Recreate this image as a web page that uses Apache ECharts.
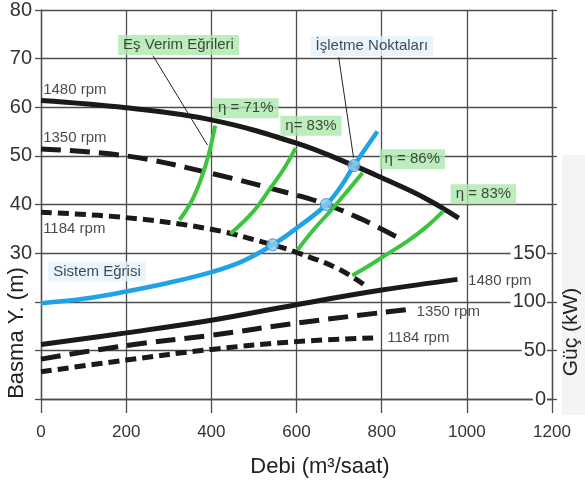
<!DOCTYPE html>
<html>
<head>
<meta charset="utf-8">
<script src="https://cdn.jsdelivr.net/npm/echarts@6/dist/echarts.min.js"></script>
<style>
  html, body { margin: 0; padding: 0; background: #fff; }
  #chart { width: 585px; height: 483px; }
</style>
</head>
<body>
<div id="chart"></div>
<script>
// pompa karakteristikleri [debi m3/saat, basma m]
const head1480 = [[0, 61.4], [200, 59.9], [400, 57.4], [600, 52.6], [735, 48.0], [800, 45.5], [900, 41.4], [981, 37.2]];
const head1350 = [[0, 51.4], [200, 50.0], [400, 46.4], [600, 41.9], [670, 40.0], [750, 37.1], [838, 33.2]];
const head1184 = [[0, 38.4], [200, 37.3], [400, 34.9], [544, 31.7], [602, 30.1], [700, 26.7], [762, 23.3]];

// sistem eğrisi
const systemCurve = [[0, 19.7], [100, 20.6], [200, 22.1], [300, 23.9], [400, 26.1], [470, 28.2], [544, 31.7], [600, 35.1], [670, 40.0], [705, 43.8], [735, 48.0], [790, 55.0]];

// eş verim eğrileri
const eff71 = [[325, 36.8], [352, 40.4], [374, 44.8], [393, 50.0], [409, 56.2]];
const eff83a = [[445, 34.0], [500, 38.7], [539, 43.4], [570, 47.3], [598, 51.6]];
const eff86 = [[602, 30.6], [641, 34.9], [680, 38.7], [719, 42.7], [755, 46.5]];
const eff83b = [[731, 25.4], [770, 27.4], [813, 29.8], [860, 32.4], [905, 35.4], [945, 38.7]];

// işletme noktaları
const opPoints = [[544, 31.7], [670, 40.0], [735, 48.0]];

// güç eğrileri [debi, kW]
const power1480 = [[0, 56], [200, 68], [400, 81], [600, 97], [800, 112], [978, 123]];
const power1350 = [[0, 41], [200, 55], [400, 65.5], [600, 78], [860, 92]];
const power1184 = [[0, 28], [200, 40], [400, 51], [600, 59], [790, 63]];

const font = 'Liberation Sans, Arial, sans-serif';
const gridColor = '#4d4d4d';

// yazılar (veri koordinatında, sol-orta)
const notes = [
  { text: '1480 rpm', at: [5, 63.6] },
  { text: '1350 rpm', at: [5, 53.8] },
  { text: '1184 rpm', at: [5, 35.0] },
  { text: 'Sistem Eğrisi', at: [17, 26.2], bg: '#e3f1fc' },
  { text: 'Eş Verim Eğrileri', at: [181, 72.8], bg: '#ade8ad' },
  { text: 'İşletme Noktaları', at: [633, 72.6], bg: '#e3f1fc' },
  { text: 'η = 71%', at: [404, 59.8], bg: '#ade8ad' },
  { text: 'η= 83%', at: [562, 56.2], bg: '#ade8ad' },
  { text: 'η = 86%', at: [795, 49.3], bg: '#ade8ad' },
  { text: 'η = 83%', at: [962, 42.1], bg: '#ade8ad' },
  { text: '1480 rpm', at: [1003, 24.3] },
  { text: '1350 rpm', at: [882, 17.9] },
  { text: '1184 rpm', at: [813, 12.6] }
];

const arrows = [
  [[263, 70.6], [391, 52.2]],
  [[699, 70.3], [734, 49.6]]
];

const chart = echarts.init(document.getElementById('chart'));

function curve(data, color, width, type, yIndex) {
  return {
    type: 'line',
    data: data,
    yAxisIndex: yIndex || 0,
    smooth: 0.4,
    symbol: 'none',
    silent: true,
    lineStyle: { color: color, width: width, type: type || 'solid', cap: 'butt' }
  };
}

chart.setOption({
  animation: false,
  textStyle: { fontFamily: font },
  grid: { left: 41, right: 33, top: 8, bottom: 84 },
  xAxis: {
    type: 'value',
    min: 0,
    max: 1200,
    interval: 200,
    axisLine: { lineStyle: { color: gridColor, width: 1.3 } },
    axisTick: { length: 14, lineStyle: { color: gridColor, width: 1.3 } },
    axisLabel: { fontSize: 17, color: '#333', margin: 25, formatter: v => String(v) },
    splitLine: { lineStyle: { color: gridColor, width: 1.3 } }
  },
  yAxis: [
    {
      type: 'value',
      min: 0,
      max: 80,
      interval: 10,
      axisLine: { show: true, lineStyle: { color: gridColor, width: 1.3 } },
      axisTick: { show: true, length: 6, lineStyle: { color: gridColor, width: 1.3 } },
      axisLabel: {
        fontSize: 20, color: '#333', margin: 9,
        formatter: v => (v >= 30 ? String(v) : '')
      },
      splitLine: { lineStyle: { color: gridColor, width: 1.3 } }
    },
    {
      type: 'value',
      position: 'right',
      min: 0,
      max: 400,
      interval: 50,
      axisLine: { show: true, lineStyle: { color: gridColor, width: 1.3 } },
      axisTick: { show: true, length: 5, lineStyle: { color: gridColor, width: 1.3 } },
      axisLabel: {
        inside: true, fontSize: 20, color: '#333', margin: 5,
        backgroundColor: '#fff', padding: [0, 1, 0, 2],
        formatter: v => (v <= 150 ? String(v) : '')
      },
      splitLine: { show: false }
    }
  ],
  graphic: [
    { type: 'rect', z: -10, shape: { x: 562, y: 155, width: 23, height: 260 }, style: { fill: '#f4f4f4' } },
    { type: 'text', x: 320, y: 467, style: { text: 'Debi (m³/saat)', fontSize: 22, fontFamily: font, fill: '#222', align: 'center', verticalAlign: 'middle' } },
    { type: 'text', x: 17, y: 333, rotation: Math.PI / 2, style: { text: 'Basma Y. (m)', fontSize: 22, fontFamily: font, fill: '#222', align: 'center', verticalAlign: 'middle' } },
    { type: 'text', x: 571, y: 332, rotation: Math.PI / 2, style: { text: 'Güç (kW)', fontSize: 21, fontFamily: font, fill: '#222', align: 'center', verticalAlign: 'middle' } }
  ],
  series: [
    curve(head1480, '#1a1a1a', 5),
    curve(head1350, '#1a1a1a', 5, [20, 9]),
    curve(head1184, '#1a1a1a', 5, [11, 6]),
    curve(power1480, '#1a1a1a', 5, 'solid', 1),
    curve(power1350, '#1a1a1a', 5, [20, 9], 1),
    curve(power1184, '#1a1a1a', 5, [11, 6], 1),
    curve(eff71, '#3cc43c', 4),
    curve(eff83a, '#3cc43c', 4),
    curve(eff86, '#3cc43c', 4),
    curve(eff83b, '#3cc43c', 4),
    curve(systemCurve, '#1fa3e6', 4.5),
    {
      type: 'scatter',
      data: opPoints,
      symbol: 'circle',
      symbolSize: 12,
      silent: true,
      z: 5,
      itemStyle: { color: '#8ecdf0', borderColor: '#2b7fc2', borderWidth: 1 },
      markLine: {
        silent: true,
        symbol: ['none', 'arrow'],
        symbolSize: [0, 9],
        label: { show: false },
        lineStyle: { color: '#222', width: 1, type: 'solid' },
        data: arrows.map(a => [{ coord: a[0] }, { coord: a[1] }])
      }
    },
    {
      type: 'scatter',
      symbolSize: 0,
      silent: true,
      z: 6,
      data: notes.map(n => ({
        value: n.at,
        label: {
          show: true,
          formatter: n.text,
          position: 'right',
          distance: 0,
          fontSize: 15,
          color: '#1a1a1a',
          backgroundColor: n.bg || 'transparent',
          padding: n.bg ? [3, 5, 2, 5] : 0
        }
      }))
    }
  ]
});
</script>
</body>
</html>
